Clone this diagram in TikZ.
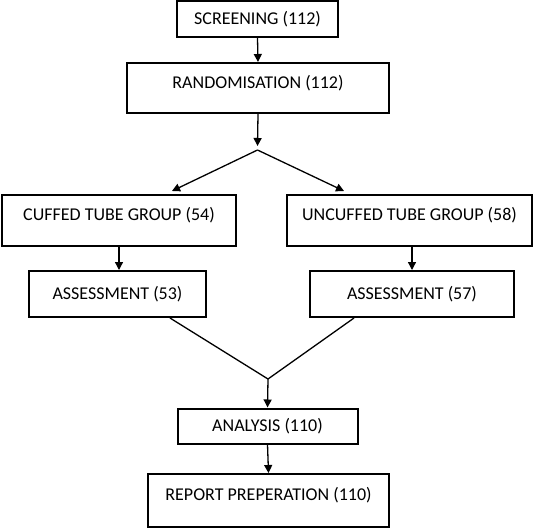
\documentclass[tikz,border=0pt]{standalone}
\usepackage{fontspec}
\setmainfont{Carlito}
\usetikzlibrary{arrows.meta}
\begin{document}
\begin{tikzpicture}[x=1pt,y=-1pt,
  box/.style={draw, line width=2pt, inner sep=0pt, font=\fontsize{18}{20}\selectfont},
  upper/.style={text height=12pt, text depth=12pt},
  conn/.style={line width=1.3pt},
  arr/.style={conn, -{Triangle[length=8pt,width=8pt]}}]
\useasboundingbox (0,0) rectangle (534,528);
\node[box, minimum width=161pt, minimum height=36pt] (screen) at (257.5,19) {SCREENING (112)};
\node[box, upper, minimum width=262pt, minimum height=50pt] (rand) at (258,88) {RANDOMISATION (112)};
\coordinate (split) at (257.5,150);
\coordinate (tipL) at (172,191);
\coordinate (tipR) at (344,191);
\coordinate (stop) at (257.5,146);
\node[box, upper, minimum width=234pt, minimum height=51pt] (cuff) at (119,220) {CUFFED TUBE GROUP (54)};
\node[box, upper, minimum width=245pt, minimum height=51pt] (uncuff) at (409.5,220) {UNCUFFED TUBE GROUP (58)};
\node[box, minimum width=177pt, minimum height=46pt] (assL) at (117.5,294) {ASSESSMENT (53)};
\node[box, minimum width=204pt, minimum height=46pt] (assR) at (412,294) {ASSESSMENT (57)};
\coordinate (join) at (268,379);
\node[box, minimum width=180pt, minimum height=35pt] (anal) at (267.5,426) {ANALYSIS (110)};
\node[box, upper, minimum width=241pt, minimum height=53pt] (report) at (268.5,500.5) {REPORT PREPERATION (110)};
\draw[arr] (screen.south) -- (rand.north);
\draw[arr] (rand.south) -- (stop);
\draw[arr] (split) -- (tipL);
\draw[arr] (split) -- (tipR);
\draw[arr] (cuff.south) -- (cuff.south |- assL.north);
\draw[arr] (uncuff.south -| assR.north) -- (assR.north);
\draw[conn] (assL.south -| 170,0) -- (join);
\draw[conn] (assR.south -| 354,0) -- (join);
\draw[arr] (join) -- (anal.north);
\draw[arr] (anal.south) -- (report.north);
\end{tikzpicture}
\end{document}
